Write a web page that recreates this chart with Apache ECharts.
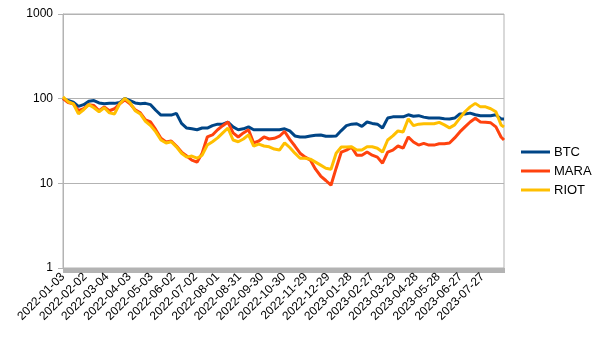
<!DOCTYPE html>
<html>
<head>
<meta charset="utf-8">
<script src="https://cdn.jsdelivr.net/npm/echarts@6/dist/echarts.min.js"></script>
<style>
  html, body { margin: 0; padding: 0; background: #ffffff; }
  #chart { width: 606px; height: 341px; }
</style>
</head>
<body>
<div id="chart"></div>
<script>
// Price index (2022-01-03 = 100), weekly closes plus the final day.
const seriesNames = ['BTC', 'MARA', 'RIOT'];
const seriesColors = ['#004586', '#ff420e', '#ffbf00'];

const btc = [
  100, 95, 91, 81, 85, 93, 95, 89, 87, 88,
  88, 90, 101, 95, 89, 87, 88, 85, 73, 64,
  64, 64, 67, 51, 45, 44, 43, 45, 45, 48,
  50, 50, 53, 46.4, 43, 44, 46.4, 43, 43, 43,
  43, 43, 43, 44, 41.6, 36.3, 35.3,
  35.3, 36.3, 37, 37.3, 36, 36, 36.3, 42, 48, 50,
  50.5, 47, 53, 51, 50, 45, 59, 61, 61, 61,
  64.5, 62, 63, 60.5, 59, 59, 59, 58, 57.5, 59,
  66, 66, 67.5, 64.5, 63, 63, 63, 64.5, 57.5,
  57.5
];

const mara = [
  100, 90, 87, 72, 76, 85, 83, 72, 80, 72,
  76, 87, 97, 87, 74, 68, 56, 53, 43, 34,
  30.8, 31.6, 27.6, 23.4, 21, 18.8, 17.8, 22.7, 35.3, 37.3,
  43, 48, 53, 39.4, 35.3, 39.4, 43, 30, 31.6, 35.3,
  33.4, 34, 36, 41, 33, 27.6, 22.7,
  20.4, 18.8, 14.7, 12.2, 10.8, 9.5, 15.1, 23.4, 24.7, 26.8,
  21.5, 21.5, 23.4, 21.5, 20.4, 17.3, 23.4, 24.7, 27.6, 26,
  35.3, 30.8, 28.3, 29.7, 28.3, 28.3, 29.3, 29.3, 29.9, 34.4,
  40.5, 46.4, 53, 58.6, 53, 52.5, 51.8, 46.4, 35.3,
  32.5
];

const riot = [
  105, 92, 87, 66, 74, 85, 78, 70, 78, 68,
  66, 87, 101, 90, 72, 66, 54, 48, 40.5, 32.5,
  30, 31, 27, 22.7, 20.4, 21, 19.8, 21.5, 28.3, 31,
  34.4, 39.4, 45, 32.5, 31, 33.4, 37.3, 27.6, 29, 27.6,
  27, 25.4, 24.7, 30, 26.5, 22.7, 19.8,
  19.8, 19.3, 17.8, 16.4, 15.1, 14.7, 22.7, 26.8, 26.8, 27,
  24.7, 24.7, 27, 27, 26, 23.4, 32.5, 36.3, 41.6, 40.5,
  57.8, 48, 50, 50.5, 50.5, 50.5, 52.5, 49, 45.2, 49,
  59, 70, 80, 88, 80, 80, 76, 70, 49,
  46.4
];

const yTicks = [1, 10, 100, 1000];

// One category per calendar day, 2022-01-03 .. 2023-08-25
const startUTC = Date.UTC(2022, 0, 3);
const dayCount = 600;
const categories = [];
for (let i = 0; i < dayCount; i++) {
  categories.push(new Date(startUTC + i * 86400000).toISOString().slice(0, 10));
}

// Sample positions: every Monday, then the last day
const sampleIndex = btc.map((_, k) => (k < btc.length - 1 ? k * 7 : dayCount - 1));

const seriesValues = [btc, mara, riot];
const font = 'Liberation Sans';
const gray = '#b3b3b3';

const chart = echarts.init(document.getElementById('chart'), null, { renderer: 'canvas' });
chart.setOption({
  animation: false,
  backgroundColor: '#ffffff',
  grid: { left: 63, right: 102, top: 14, bottom: 73, show: true, borderColor: gray, borderWidth: 1 },
  legend: {
    orient: 'vertical',
    left: 516,
    top: 139,
    icon: 'rect',
    itemWidth: 29,
    itemHeight: 3,
    itemGap: 3,
    textStyle: { fontFamily: font, fontSize: 13, color: '#000', lineHeight: 16, padding: [0, 0, 0, -1] },
    data: seriesNames
  },
  xAxis: {
    type: 'category',
    data: categories,
    boundaryGap: false,
    axisLine: { show: true, lineStyle: { color: gray, width: 1 } },
    axisTick: { show: true, interval: 0, length: 5, lineStyle: { color: gray } },
    axisLabel: {
      interval: 29,
      rotate: 45,
      margin: 7,
      fontFamily: font,
      fontSize: 12,
      color: '#000'
    },
    splitLine: { show: false }
  },
  yAxis: {
    type: 'log',
    logBase: 10,
    min: yTicks[0],
    max: yTicks[yTicks.length - 1],
    axisLine: { show: true, lineStyle: { color: gray } },
    axisTick: { show: true, length: 5, lineStyle: { color: gray } },
    axisLabel: {
      fontFamily: font, fontSize: 12, color: '#000', margin: 10,
      formatter: (v) => String(Math.round(v))
    },
    splitLine: { show: true, lineStyle: { color: gray, width: 1 } }
  },
  series: seriesNames.map((name, s) => ({
    name: name,
    type: 'line',
    showSymbol: false,
    symbol: 'none',
    color: seriesColors[s],
    itemStyle: { color: seriesColors[s] },
    lineStyle: { color: seriesColors[s], width: 3 },
    data: sampleIndex.map((d, k) => [d, seriesValues[s][k]])
  }))
});
</script>
</body>
</html>
